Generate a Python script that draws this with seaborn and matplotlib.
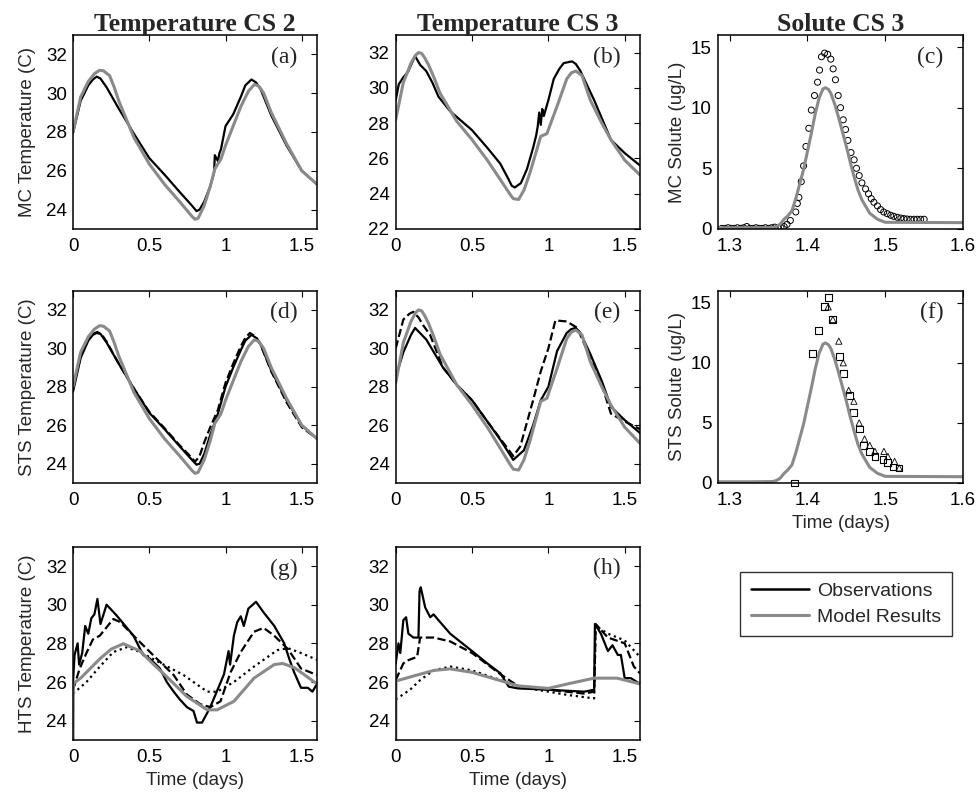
import numpy as np
import pandas as pd
import seaborn as sns
import matplotlib.pyplot as plt
from matplotlib.lines import Line2D

# ---- Temperature CS 2 ----
t_cs2_mod = [0, 0.05, 0.1, 0.14, 0.175, 0.2, 0.24, 0.27, 0.3, 0.4, 0.5, 0.6, 0.7, 0.78, 0.8, 0.82,
             0.86, 0.9, 0.93, 0.97, 1.0, 1.05, 1.1, 1.15, 1.19, 1.22, 1.25, 1.3, 1.4, 1.5, 1.6]
T_cs2_mod = [28.0, 29.8, 30.6, 31.0, 31.18, 31.15, 30.9, 30.3, 29.6, 27.7, 26.35, 25.3, 24.4, 23.65,
             23.5, 23.55, 24.2, 25.2, 26.1, 26.6, 27.3, 28.3, 29.3, 30.1, 30.45, 30.35, 30.0, 29.0,
             27.4, 26.0, 25.3]

t_cs2_mc = [0, 0.05, 0.1, 0.13, 0.155, 0.18, 0.22, 0.3, 0.4, 0.5, 0.6, 0.7, 0.78, 0.81, 0.83, 0.86,
            0.9, 0.925, 0.93, 0.95, 0.96, 0.97, 1.0, 1.05, 1.1, 1.13, 1.17, 1.2, 1.23, 1.3, 1.4,
            1.5, 1.6]
T_cs2_mc = [27.95, 29.6, 30.4, 30.7, 30.85, 30.75, 30.3, 29.2, 27.9, 26.65, 25.8, 24.9, 24.2, 23.92,
            24.0, 24.4, 25.2, 25.9, 26.8, 26.5, 26.9, 27.1, 28.3, 28.9, 29.8, 30.4, 30.7, 30.55, 30.2,
            28.85, 27.3, 26.0, 25.3]

t_cs2_sts1 = [0, 0.05, 0.1, 0.13, 0.155, 0.18, 0.22, 0.3, 0.4, 0.5, 0.6, 0.7, 0.78, 0.81, 0.83,
              0.86, 0.9, 0.95, 1.0, 1.05, 1.1, 1.13, 1.17, 1.2, 1.23, 1.3, 1.4, 1.5, 1.6]
T_cs2_sts1 = [27.75, 29.5, 30.4, 30.7, 30.8, 30.75, 30.3, 29.2, 27.9, 26.65, 25.8, 24.9, 24.2, 23.95,
              24.0, 24.5, 25.5, 26.6, 28.0, 29.0, 29.9, 30.4, 30.7, 30.55, 30.2, 28.85, 27.3, 26.0,
              25.3]
t_cs2_sts2 = [0, 0.05, 0.1, 0.13, 0.16, 0.19, 0.22, 0.3, 0.4, 0.5, 0.6, 0.7, 0.78, 0.8, 0.83, 0.86,
              0.9, 0.95, 1.0, 1.05, 1.1, 1.13, 1.16, 1.2, 1.23, 1.3, 1.4, 1.5, 1.6]
T_cs2_sts2 = [27.9, 29.6, 30.5, 30.75, 30.85, 30.7, 30.35, 29.2, 27.9, 26.7, 25.85, 24.95, 24.3, 24.1,
              24.4, 25.1, 25.9, 26.8, 28.2, 29.2, 30.1, 30.55, 30.8, 30.6, 30.2, 28.8, 27.2, 25.9,
              25.3]

# ---- Temperature CS 3 ----
t_cs3_mod = [0, 0.05, 0.1, 0.13, 0.15, 0.17, 0.19, 0.215, 0.25, 0.29, 0.4, 0.5, 0.6, 0.685, 0.75,
             0.77, 0.805, 0.84, 0.88, 0.95, 0.99, 1.057, 1.12, 1.15, 1.18, 1.22, 1.275, 1.35, 1.41,
             1.5, 1.6]
T_cs3_mod = [28.2, 30.3, 31.4, 31.85, 32.0, 31.95, 31.7, 31.3, 30.6, 29.7, 28.1, 27.06, 25.9, 24.8,
             23.95, 23.72, 23.67, 24.2, 25.2, 27.25, 27.4, 28.96, 30.5, 30.85, 30.95, 30.7, 29.3,
             28.0, 27.05, 25.9, 25.06]

t_cs3_mc = [0, 0.02, 0.05, 0.08, 0.127, 0.16, 0.2, 0.24, 0.28, 0.357, 0.5, 0.6, 0.685, 0.74, 0.76,
            0.78, 0.82, 0.86, 0.9, 0.92, 0.93, 0.94, 0.95, 0.96, 0.97, 1.0, 1.035, 1.07, 1.1, 1.155,
            1.18, 1.21, 1.3, 1.41, 1.5, 1.6]
T_cs3_mc = [29.3, 30.2, 30.6, 30.9, 31.8, 31.3, 30.95, 30.3, 29.5, 28.67, 27.6, 26.6, 25.7, 24.8,
            24.45, 24.35, 24.6, 25.4, 26.6, 27.3, 27.8, 28.6, 27.9, 28.8, 28.4, 29.3, 30.5, 31.05,
            31.4, 31.5, 31.35, 30.95, 29.3, 27.05, 26.3, 25.6]

t_cs3_sts1 = [0, 0.05, 0.1, 0.127, 0.2, 0.31, 0.4, 0.5, 0.6, 0.685, 0.77, 0.84, 0.9, 0.95, 1.0,
              1.057, 1.12, 1.15, 1.18, 1.21, 1.275, 1.35, 1.41, 1.5, 1.6]
T_cs3_sts1 = [28.5, 29.8, 30.7, 31.06, 30.46, 29.0, 28.1, 27.3, 26.2, 25.25, 24.2, 24.7, 26.0, 27.3,
              28.0, 29.86, 30.8, 31.0, 31.06, 30.8, 29.7, 28.3, 26.96, 26.27, 25.6]
t_cs3_sts2 = [0, 0.05, 0.09, 0.116, 0.15, 0.18, 0.225, 0.31, 0.4, 0.5, 0.6, 0.685, 0.77, 0.816,
              0.9, 0.95, 1.0, 1.046, 1.12, 1.19, 1.275, 1.35, 1.41, 1.5, 1.6]
T_cs3_sts2 = [30.0, 31.5, 31.8, 31.9, 31.6, 31.2, 30.7, 29.0, 28.1, 27.3, 26.2, 25.3, 24.4, 24.9,
              27.3, 28.8, 30.0, 31.45, 31.4, 31.06, 29.5, 28.1, 26.6, 26.2, 25.8]

# ---- HTS CS 2 ----
t_hts2_mod = [0, 0.002, 0.05, 0.176, 0.25, 0.33, 0.44, 0.53, 0.615, 0.747, 0.88, 0.945, 1.055,
              1.187, 1.319, 1.374, 1.45, 1.495, 1.6]
T_hts2_mod = [22.0, 25.93, 26.2, 27.2, 27.7, 27.98, 27.6, 26.9, 26.27, 25.25, 24.56, 24.56, 25.0,
              26.2, 26.9, 26.96, 26.75, 26.5, 25.9]
t_hts2_a = [0, 0.01, 0.03, 0.04, 0.06, 0.08, 0.1, 0.12, 0.14, 0.16, 0.18, 0.22, 0.286, 0.396, 0.46,
            0.505, 0.57, 0.615, 0.66, 0.7, 0.747, 0.79, 0.813, 0.846, 0.9, 0.945, 0.99, 1.02, 1.03,
            1.055, 1.077, 1.1, 1.12, 1.15, 1.2, 1.25, 1.32, 1.385, 1.418, 1.45, 1.495, 1.54, 1.57, 1.6]
T_hts2_a = [26.0, 27.4, 28.0, 26.9, 27.5, 28.9, 28.5, 29.3, 29.5, 30.3, 29.0, 30.0, 29.44, 28.4, 27.4,
            27.2, 26.7, 26.0, 25.5, 25.1, 24.7, 24.5, 23.9, 23.9, 24.7, 25.55, 26.4, 27.6, 26.9,
            28.4, 29.1, 29.4, 28.9, 29.8, 30.15, 29.6, 28.9, 28.0, 27.2, 26.5, 25.7, 25.7, 25.5, 25.9]
t_hts2_b = [0, 0.044, 0.088, 0.13, 0.176, 0.264, 0.31, 0.396, 0.46, 0.55, 0.66, 0.747, 0.835, 0.9,
            0.967, 1.033, 1.1, 1.187, 1.25, 1.319, 1.41, 1.495, 1.6]
T_hts2_b = [25.6, 26.7, 27.5, 28.2, 28.4, 29.26, 29.1, 28.4, 27.9, 27.2, 26.36, 25.35, 24.85, 24.7,
            25.0, 26.5, 27.55, 28.6, 28.8, 28.4, 27.7, 26.7, 26.36]
t_hts2_c = [0, 0.088, 0.176, 0.264, 0.352, 0.44, 0.57, 0.725, 0.88, 0.945, 1.055, 1.187, 1.34,
            1.41, 1.495, 1.6]
T_hts2_c = [25.4, 26.0, 26.8, 27.55, 27.8, 27.55, 27.0, 26.36, 25.5, 25.5, 26.0, 26.8, 27.65,
            27.75, 27.5, 27.15]

# ---- HTS CS 3 ----
t_hts3_mod = [0, 0.002, 0.094, 0.25, 0.357, 0.5, 0.686, 0.8, 1.0, 1.125, 1.3, 1.45, 1.6]
T_hts3_mod = [22.0, 26.05, 26.26, 26.6, 26.68, 26.5, 26.07, 25.8, 25.67, 25.9, 26.2, 26.2, 25.9]
t_hts3_a = [0, 0.018, 0.03, 0.05, 0.068, 0.083, 0.116, 0.149, 0.156, 0.164, 0.193, 0.226, 0.248,
            0.28, 0.357, 0.5, 0.6, 0.686, 0.74, 0.8, 1.0, 1.235, 1.3, 1.305, 1.344, 1.39, 1.42,
            1.455, 1.475, 1.5, 1.54, 1.6]
T_hts3_a = [26.96, 28.0, 27.5, 29.2, 29.35, 28.5, 28.3, 28.3, 30.7, 30.9, 29.86, 29.35, 29.5,
            29.2, 28.5, 27.6, 26.96, 26.45, 25.76, 25.67, 25.6, 25.5, 25.6, 29.0, 28.5, 27.6, 27.9,
            27.4, 27.4, 26.2, 26.2, 25.9]
t_hts3_b = [0, 0.05, 0.072, 0.14, 0.16, 0.248, 0.357, 0.5, 0.686, 0.8, 1.0, 1.235, 1.3, 1.31,
            1.39, 1.5, 1.56, 1.6]
T_hts3_b = [26.1, 26.96, 27.1, 27.3, 28.3, 28.3, 28.1, 27.5, 26.4, 25.8, 25.6, 25.4, 25.5, 29.0,
            28.3, 28.0, 26.8, 26.45]
t_hts3_c = [0, 0.094, 0.16, 0.248, 0.357, 0.5, 0.686, 0.8, 1.0, 1.125, 1.3, 1.31, 1.39, 1.5, 1.6]
T_hts3_c = [25.1, 25.6, 26.1, 26.6, 26.8, 26.6, 26.1, 25.76, 25.5, 25.33, 25.15, 28.9, 28.5, 28.15,
            27.3]

# ---- Solute CS 3 ----
t_sol_mod = [1.285, 1.3, 1.33, 1.355, 1.36, 1.365, 1.37, 1.375, 1.38, 1.385, 1.39, 1.395, 1.4,
             1.405, 1.41, 1.415, 1.42, 1.423, 1.427, 1.43, 1.435, 1.44, 1.445, 1.45, 1.455, 1.46,
             1.465, 1.47, 1.48, 1.49, 1.5, 1.6]
C_sol_mod = [0.1, 0.1, 0.1, 0.12, 0.2, 0.4, 0.8, 1.1, 1.5, 2.5, 3.7, 4.9, 6.4, 7.9, 9.5, 10.8, 11.55,
             11.65, 11.5, 11.2, 10.3, 9.2, 8.0, 6.8, 5.5, 4.3, 3.2, 2.4, 1.3, 0.8, 0.55, 0.52]

t_mc_obs = [1.290, 1.294, 1.298, 1.302, 1.306, 1.310, 1.314, 1.318, 1.322, 1.326, 1.330, 1.334,
            1.338, 1.342, 1.346, 1.350, 1.354, 1.358, 1.362, 1.366, 1.370, 1.3738, 1.378, 1.385,
            1.387, 1.389, 1.392, 1.395, 1.398, 1.4017, 1.405, 1.409, 1.413, 1.4155, 1.418, 1.422,
            1.426, 1.430, 1.433, 1.436, 1.4395, 1.4425, 1.446, 1.449, 1.452, 1.456, 1.46, 1.463,
            1.4665, 1.470, 1.4747, 1.4785, 1.482, 1.4854, 1.49, 1.494, 1.498, 1.5026, 1.507, 1.511,
            1.5155, 1.52, 1.524, 1.528, 1.5326, 1.537, 1.541, 1.5455, 1.55]
C_mc_obs = [0.05, 0.05, 0.1, 0.05, 0.05, 0.1, 0.05, 0.1, 0.2, 0.05, 0.05, 0.1, 0.05, 0.05, 0.1,
            0.05, 0.1, 0.15, 0.1, 0.1, 0.2, 0.38, 0.7, 1.4, 2.1, 2.6, 3.9, 5.2, 6.8, 8.3, 9.8, 11.0,
            12.1, 13.1, 14.2, 14.5, 14.4, 14.0, 13.2, 12.3, 11.0, 10.0, 9.0, 8.2, 7.3, 6.3, 5.7, 5.0,
            4.4, 3.8, 3.3, 2.9, 2.5, 2.2, 1.9, 1.6, 1.4, 1.26, 1.13, 1.04, 0.96, 0.9, 0.85, 0.82, 0.8,
            0.8, 0.8, 0.8, 0.8]

t_sts_sq = [1.3837, 1.406, 1.4137, 1.4223, 1.4266, 1.4326, 1.441, 1.446, 1.454, 1.4597, 1.467,
            1.4725, 1.4794, 1.4867, 1.497, 1.5034, 1.5099, 1.5176]
C_sts_sq = [0.0, 10.8, 12.7, 14.65, 15.4, 13.6, 10.5, 9.1, 7.26, 5.87, 4.49, 3.13, 2.63, 2.2, 1.94,
            1.72, 1.33, 1.25]
t_sts_tri = [1.4266, 1.4326, 1.4403, 1.446, 1.453, 1.4597, 1.4665, 1.4734, 1.48, 1.4867, 1.4983,
             1.5034, 1.512, 1.518]
C_sts_tri = [14.65, 13.6, 11.8, 10.0, 7.7, 6.8, 5.0, 3.66, 3.13, 2.63, 2.63, 2.2, 1.8, 1.25]

GRAY = '#8a8a8a'
FS = 13.5
sns.set_style('white')
plt.rcParams['font.family'] = ['Liberation Sans', 'DejaVu Sans']
plt.rcParams['axes.linewidth'] = 1.1
plt.rcParams['axes.edgecolor'] = 'black'

fig = plt.figure(figsize=(9.79, 7.95), dpi=100)
lefts = [0.0746, 0.4042, 0.7334]
widths = [0.2492, 0.2495, 0.2503]
bottoms = [0.712, 0.3925, 0.0692]
heights = [0.2441, 0.2419, 0.2431]


def make_ax(r, c):
    ax = fig.add_axes([lefts[c], bottoms[r], widths[c], heights[r]])
    ax.tick_params(direction='in', top=True, right=True, length=4, width=0.8,
                   labelsize=FS, colors='black')
    ax.tick_params(axis='x', pad=6.5)
    ax.tick_params(axis='y', pad=4.5)
    for s in ax.spines.values():
        s.set_visible(True)
        s.set_color('black')
    return ax


def line(ax, t, y, color='black', lw=1.6, ls='-'):
    sns.lineplot(x=t, y=y, ax=ax, color=color, linewidth=lw, linestyle=ls,
                 estimator=None, sort=False, legend=False)


def temp_axes(ax, label, ylo=23, yticks=(24, 26, 28, 30, 32)):
    ax.set_xlim(0, 1.6)
    ax.set_ylim(ylo, 33)
    ax.set_xticks([0, 0.5, 1, 1.5])
    ax.set_xticklabels(['0', '0.5', '1', '1.5'])
    ax.set_yticks(list(yticks))
    ax.set_xlabel('')
    ax.set_ylabel(label, fontsize=FS, labelpad=7)


def sol_axes(ax, label):
    ax.set_xlim(1.285, 1.6)
    ax.set_ylim(0, 16)
    ax.set_xticks([1.3, 1.4, 1.5, 1.6])
    ax.set_xticklabels(['1.3', '1.4', '1.5', '1.6'])
    ax.set_yticks([0, 5, 10, 15])
    ax.set_xlabel('')
    ax.set_ylabel(label, fontsize=FS, labelpad=3.5)


def tag(ax, s):
    ax.text(0.92, 0.885, s, transform=ax.transAxes, ha='right', va='center',
            fontsize=17, family='Liberation Serif')


title_kw = dict(fontsize=18.5, fontweight='bold', family='Liberation Serif', pad=3)

# (a)
ax = make_ax(0, 0)
line(ax, t_cs2_mc, T_cs2_mc)
line(ax, t_cs2_mod, T_cs2_mod, GRAY, 2.2)
temp_axes(ax, 'MC Temperature (C)')
ax.set_title('Temperature CS 2', **title_kw)
tag(ax, '(a)')

# (b)
ax = make_ax(0, 1)
line(ax, t_cs3_mc, T_cs3_mc)
line(ax, t_cs3_mod, T_cs3_mod, GRAY, 2.2)
temp_axes(ax, '', ylo=22, yticks=(22, 24, 26, 28, 30, 32))
ax.set_title('Temperature CS 3', **title_kw)
tag(ax, '(b)')

# (c)
ax = make_ax(0, 2)
sns.scatterplot(x=t_mc_obs, y=C_mc_obs, ax=ax, marker='o', s=19, facecolors='none',
                edgecolors='black', linewidth=0.7, legend=False)
line(ax, t_sol_mod, C_sol_mod, GRAY, 2.2)
sol_axes(ax, 'MC Solute (ug/L)')
ax.set_title('Solute CS 3', **title_kw)
tag(ax, '(c)')

# (d)
ax = make_ax(1, 0)
line(ax, t_cs2_sts1, T_cs2_sts1)
line(ax, t_cs2_sts2, T_cs2_sts2, ls='--')
line(ax, t_cs2_mod, T_cs2_mod, GRAY, 2.2)
temp_axes(ax, 'STS Temperature (C)')
tag(ax, '(d)')

# (e)
ax = make_ax(1, 1)
line(ax, t_cs3_sts1, T_cs3_sts1)
line(ax, t_cs3_sts2, T_cs3_sts2, ls='--')
line(ax, t_cs3_mod, T_cs3_mod, GRAY, 2.2)
temp_axes(ax, '')
tag(ax, '(e)')

# (f)
ax = make_ax(1, 2)
line(ax, t_sol_mod, C_sol_mod, GRAY, 2.2)
sns.scatterplot(x=t_sts_sq, y=C_sts_sq, ax=ax, marker='s', s=24, facecolors='none',
                edgecolors='black', linewidth=0.8, legend=False, clip_on=False)
sns.scatterplot(x=t_sts_tri, y=C_sts_tri, ax=ax, marker='^', s=20, facecolors='none',
                edgecolors='black', linewidth=0.6, legend=False)
sol_axes(ax, 'STS Solute (ug/L)')
ax.set_xlabel('Time (days)', fontsize=FS, labelpad=4)
tag(ax, '(f)')

# (g)
ax = make_ax(2, 0)
line(ax, t_hts2_a, T_hts2_a)
line(ax, t_hts2_b, T_hts2_b, ls='--')
line(ax, t_hts2_c, T_hts2_c, ls=':')
line(ax, t_hts2_mod, T_hts2_mod, GRAY, 2.2)
temp_axes(ax, 'HTS Temperature (C)')
ax.set_xlabel('Time (days)', fontsize=FS, labelpad=4)
tag(ax, '(g)')

# (h)
ax = make_ax(2, 1)
line(ax, t_hts3_a, T_hts3_a)
line(ax, t_hts3_b, T_hts3_b, ls='--')
line(ax, t_hts3_c, T_hts3_c, ls=':')
line(ax, t_hts3_mod, T_hts3_mod, GRAY, 2.2)
temp_axes(ax, '')
ax.set_xlabel('Time (days)', fontsize=FS, labelpad=4)
tag(ax, '(h)')

handles = [Line2D([], [], color='black', lw=1.8), Line2D([], [], color=GRAY, lw=2.2)]
leg = fig.legend(handles, ['Observations', 'Model Results'], loc='upper left',
                 bbox_to_anchor=(0.756, 0.281), fontsize=14, frameon=True, fancybox=False,
                 edgecolor='black', handlelength=3.0, borderpad=0.55, labelspacing=0.42,
                 handletextpad=0.4, borderaxespad=0)
leg.get_frame().set_linewidth(1.0)

fig.savefig('out.png', dpi=100)
